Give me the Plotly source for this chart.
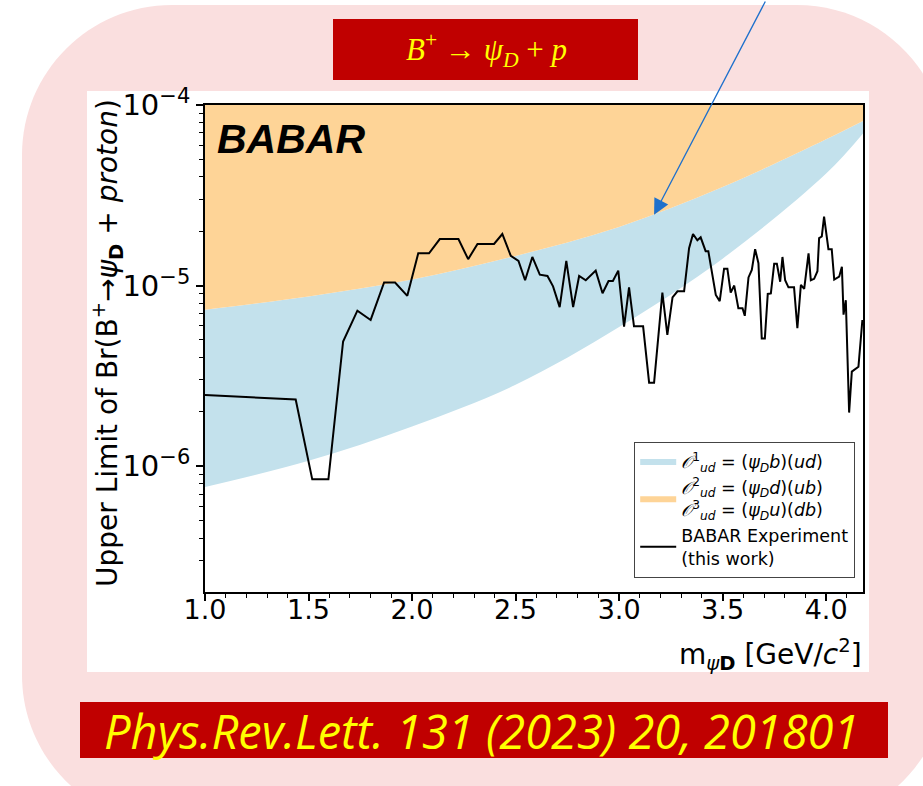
import math
import plotly.graph_objects as go

# ---- theory bands: lower edges sampled in dark-fermion mass (GeV/c^2) ----
band_mass = [1.0, 1.5, 2.0, 2.5, 3.0, 3.5, 4.0, 4.18]
o1_lower = [7.66e-7, 1.07e-6, 1.66e-6, 2.82e-6, 5.89e-6, 1.41e-5, 4.17e-5, 7.0e-5]
o23_lower = [7.35e-6, 8.71e-6, 1.08e-5, 1.46e-5, 2.11e-5, 3.51e-5, 6.46e-5, 8.18e-5]
band_ceiling = 1e-4

# ---- BABAR 90% CL upper limit on Br(B+ -> psi_D + proton) ----
babar_mass = [
    1.000, 1.438, 1.518, 1.596, 1.667, 1.736, 1.800, 1.865, 1.918, 1.977,
    2.030, 2.082, 2.134, 2.224, 2.271, 2.316, 2.396, 2.436, 2.477, 2.514,
    2.546, 2.581, 2.617, 2.654, 2.681, 2.713, 2.745, 2.778, 2.807, 2.839,
    2.887, 2.920, 2.949, 2.970, 2.996, 3.024, 3.048, 3.072, 3.116, 3.145,
    3.169, 3.209, 3.233, 3.258, 3.282, 3.314, 3.338, 3.357, 3.378, 3.394,
    3.418, 3.431, 3.467, 3.486, 3.507, 3.523, 3.539, 3.556, 3.576, 3.596,
    3.607, 3.625, 3.641, 3.657, 3.673, 3.689, 3.704, 3.718, 3.733, 3.749,
    3.762, 3.778, 3.789, 3.802, 3.818, 3.845, 3.861, 3.878, 3.894, 3.915,
    3.926, 3.942, 3.958, 3.966, 3.979, 3.990, 4.011, 4.027, 4.039, 4.063,
    4.076, 4.084, 4.095, 4.111, 4.124, 4.156, 4.175,
]
babar_limit = [
    2.48e-6, 2.34e-6, 8.45e-7, 8.45e-7, 4.90e-6, 7.26e-6, 6.45e-6, 1.04e-5, 1.04e-5, 8.77e-6,
    1.51e-5, 1.51e-5, 1.81e-5, 1.81e-5, 1.40e-5, 1.70e-5, 1.70e-5, 1.93e-5, 1.46e-5, 1.37e-5,
    1.07e-5, 1.44e-5, 1.15e-5, 1.13e-5, 9.90e-6, 7.60e-6, 1.37e-5, 7.60e-6, 1.13e-5, 1.07e-5,
    1.21e-5, 9.06e-6, 1.06e-5, 1.06e-5, 1.21e-5, 5.93e-6, 9.78e-6, 5.95e-6, 5.95e-6, 2.90e-6,
    2.90e-6, 9.14e-6, 5.33e-6, 8.60e-6, 9.30e-6, 9.30e-6, 1.61e-5, 1.93e-5, 1.78e-5, 1.85e-5,
    1.55e-5, 1.55e-5, 8.87e-6, 8.20e-6, 1.24e-5, 1.24e-5, 9.14e-6, 1.00e-5, 7.50e-6, 7.50e-6,
    6.80e-6, 1.11e-5, 1.22e-5, 1.59e-5, 1.33e-5, 5.10e-6, 5.10e-6, 8.99e-6, 9.05e-6, 1.32e-5,
    1.32e-5, 1.05e-5, 1.44e-5, 1.07e-5, 9.78e-6, 9.78e-6, 5.80e-6, 1.01e-5, 9.60e-6, 1.51e-5,
    1.07e-5, 1.09e-5, 1.20e-5, 1.83e-5, 1.87e-5, 2.41e-5, 1.59e-5, 1.59e-5, 1.08e-5, 1.12e-5,
    1.27e-5, 6.90e-6, 8.30e-6, 1.98e-6, 3.34e-6, 3.55e-6, 6.45e-6,
]

x_ticks = [1.0, 1.5, 2.0, 2.5, 3.0, 3.5, 4.0]
x_ticktext = ["1.0", "1.5", "2.0", "2.5", "3.0", "3.5", "4.0"]
y_ticks = [1e-6, 1e-5, 1e-4]
y_ticktext = [
    "10<sup><span style='font-size:21px'>−6</span></sup>",
    "10<sup><span style='font-size:21px'>−5</span></sup>",
    "10<sup><span style='font-size:21px'>−4</span></sup>",
]

legend_o1 = "<i>𝒪</i><sup>1</sup><sub><i>ud</i></sub> = (<i>ψ</i><sub><i>D</i></sub><i>b</i>)(<i>ud</i>)"
legend_o23 = ("<i>𝒪</i><sup>2</sup><sub><i>ud</i></sub> = (<i>ψ</i><sub><i>D</i></sub><i>d</i>)(<i>ub</i>)<br>"
              "<i>𝒪</i><sup>3</sup><sub><i>ud</i></sub> = (<i>ψ</i><sub><i>D</i></sub><i>u</i>)(<i>db</i>)")
legend_babar = "BABAR Experiment<br>(this work)"

BLUE = "rgb(195,225,236)"
ORANGE = "rgb(254,212,151)"
PINK = "rgb(250,223,223)"
DARKRED = "rgb(192,0,0)"
YELLOW = "rgb(255,255,0)"

# page geometry (pixels)
W, H = 923, 786
ML, MR, MT, MB = 205, 60, 105, 194
PW, PH = W - ML - MR, H - MT - MB


def fx(px):
    return (px - ML) / PW


def fy(py):
    return (H - MB - py) / PH


def rounded_rect(x0, y0, x1, y1, r):
    k = 0.5523 * r
    pts = [
        f"M {fx(x0 + r)} {fy(y0)}",
        f"L {fx(x1 - r)} {fy(y0)}",
        f"C {fx(x1 - r + k)} {fy(y0)} {fx(x1)} {fy(y0 + r - k)} {fx(x1)} {fy(y0 + r)}",
        f"L {fx(x1)} {fy(y1 - r)}",
        f"C {fx(x1)} {fy(y1 - r + k)} {fx(x1 - r + k)} {fy(y1)} {fx(x1 - r)} {fy(y1)}",
        f"L {fx(x0 + r)} {fy(y1)}",
        f"C {fx(x0 + r - k)} {fy(y1)} {fx(x0)} {fy(y1 - r + k)} {fx(x0)} {fy(y1 - r)}",
        f"L {fx(x0)} {fy(y0 + r)}",
        f"C {fx(x0)} {fy(y0 + r - k)} {fx(x0 + r - k)} {fy(y0)} {fx(x0 + r)} {fy(y0)}",
        "Z",
    ]
    return " ".join(pts)


fig = go.Figure()

fig.add_trace(go.Scatter(
    x=band_mass, y=o1_lower, mode="lines", line=dict(width=0, shape="spline"),
    showlegend=False, hoverinfo="skip",
))
fig.add_trace(go.Scatter(
    x=band_mass, y=o23_lower, mode="lines", line=dict(width=0, shape="spline"),
    fill="tonexty", fillcolor=BLUE, name=legend_o1,
))
fig.add_trace(go.Scatter(
    x=band_mass, y=[band_ceiling] * len(band_mass), mode="lines", line=dict(width=0),
    fill="tonexty", fillcolor=ORANGE, name=legend_o23,
))
fig.add_trace(go.Scatter(
    x=babar_mass, y=babar_limit, mode="lines", line=dict(color="black", width=2),
    name=legend_babar,
))

shapes = [
    dict(type="path", xref="paper", yref="paper", path=rounded_rect(22, 5, 947, 825, 150),
         fillcolor=PINK, line=dict(width=0), layer="below"),
    dict(type="rect", xref="paper", yref="paper", x0=fx(87), x1=fx(869), y0=fy(672), y1=fy(91),
         fillcolor="white", line=dict(width=0), layer="below"),
    dict(type="rect", xref="paper", yref="paper", x0=fx(333), x1=fx(638), y0=fy(80), y1=fy(19),
         fillcolor=DARKRED, line=dict(width=0), layer="above"),
    dict(type="rect", xref="paper", yref="paper", x0=fx(80), x1=fx(888), y0=fy(758), y1=fy(702),
         fillcolor=DARKRED, line=dict(width=0), layer="above"),
]

tip_x = 3.169
tip_y = 2.47e-5

annotations = [
    dict(xref="paper", yref="paper", x=fx(486), y=fy(50), xanchor="center", yanchor="middle",
         text="<i>B</i><sup>+</sup> → <i>ψ</i><sub><i>D</i></sub> + <i>p</i>", showarrow=False,
         font=dict(family="Liberation Serif, DejaVu Serif", size=31, color=YELLOW)),
    dict(xref="paper", yref="paper", x=fx(481), y=fy(731), xanchor="center", yanchor="middle",
         text="<i>Phys.Rev.Lett. 131 (2023) 20, 201801</i>", showarrow=False,
         font=dict(family="Open Sans", size=47, color=YELLOW)),
    dict(xref="paper", yref="paper", x=fx(215), y=fy(114), xanchor="left", yanchor="top",
         text="<b><i>BABAR</i></b>", showarrow=False,
         font=dict(family="Liberation Sans, Arial", size=41, color="black")),
    dict(xref="paper", yref="paper", x=fx(107), y=fy(343), xanchor="center", yanchor="middle",
         textangle=-90, showarrow=False,
         text="Upper Limit of Br(B<sup>+</sup>→<i>ψ</i><sub><b>D</b></sub> + <i>proton</i>)",
         font=dict(family="DejaVu Sans", size=28, color="black")),
    dict(xref="paper", yref="paper", x=fx(864), y=fy(654), xanchor="right", yanchor="middle",
         text="m<sub><i>ψ</i><b>D</b></sub> [GeV/<i>c</i><sup>2</sup>]", showarrow=False,
         font=dict(family="DejaVu Sans", size=28, color="black")),
    dict(x=tip_x, y=math.log10(tip_y), xref="x", yref="y", showarrow=True,
         ax=112, ay=-230, axref="pixel", ayref="pixel", text="",
         arrowhead=2, arrowsize=2.4, arrowwidth=1.3, arrowcolor="rgb(30,112,204)", standoff=0),
]

minor_y = [k * 10.0 ** e for e in (-7, -6, -5) for k in range(2, 10)]

fig.update_layout(
    width=W, height=H,
    margin=dict(l=ML, r=MR, t=MT, b=MB, pad=0),
    paper_bgcolor="white", plot_bgcolor="white",
    shapes=shapes, annotations=annotations,
    font=dict(family="DejaVu Sans", color="black"),
    showlegend=True,
    legend=dict(
        x=fx(855), y=fy(578), xanchor="right", yanchor="bottom",
        traceorder="normal",
        bgcolor="rgba(255,255,255,0.85)", bordercolor="#444", borderwidth=1.2,
        font=dict(family="DejaVu Sans", size=17.5, color="black"),
        tracegroupgap=2, itemwidth=36,
    ),
    xaxis=dict(
        range=[1.0, 4.178], tickvals=x_ticks, ticktext=x_ticktext,
        ticks="outside", ticklen=7, tickwidth=1.5, tickcolor="black",
        ticklabelstandoff=-14,
        showline=True, linecolor="black", linewidth=1.8, mirror=True,
        showgrid=False, zeroline=False,
        tickfont=dict(family="DejaVu Sans", size=27, color="black"),
        minor=dict(dtick=0.1, tick0=1.0, ticks="outside", ticklen=4, tickwidth=1,
                   tickcolor="black", showgrid=False),
    ),
    yaxis=dict(
        type="log", range=[-6.697, -4.0], tickvals=y_ticks, ticktext=y_ticktext,
        ticks="outside", ticklen=7, tickwidth=1.5, tickcolor="black",
        showline=True, linecolor="black", linewidth=1.8, mirror=True,
        showgrid=False, zeroline=False,
        tickfont=dict(family="DejaVu Sans", size=29, color="black"),
        minor=dict(tickvals=minor_y, ticks="outside", ticklen=4, tickwidth=1,
                   tickcolor="black", showgrid=False),
    ),
)

fig.write_html("out.html")
